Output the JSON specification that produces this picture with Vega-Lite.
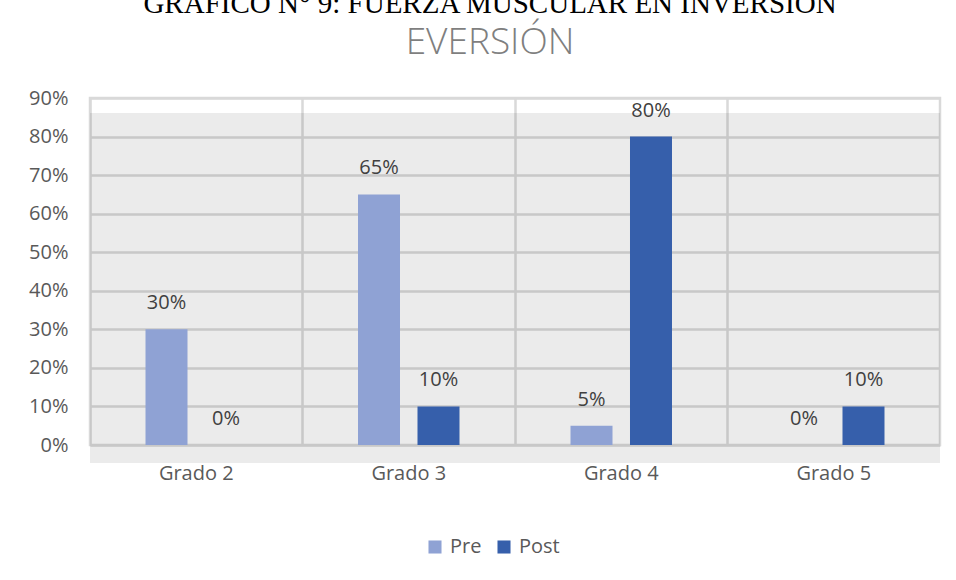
{
  "$schema": "https://vega.github.io/schema/vega-lite/v6.json",
  "width": 850,
  "height": 347,
  "autosize": {"type": "none"},
  "padding": {"left": 90, "top": 98, "right": 16, "bottom": 135},
  "background": "white",
  "title": {
    "text": "GRÁFICO N° 9: FUERZA MUSCULAR EN INVERSIÓN",
    "subtitle": "EVERSIÓN",
    "font": "Liberation Serif",
    "fontSize": 29,
    "fontWeight": "normal",
    "color": "#000000",
    "subtitleFont": "Open Sans",
    "subtitleFontSize": 37,
    "subtitleFontWeight": 300,
    "subtitleColor": "#7F7F7F",
    "subtitlePadding": 6,
    "anchor": "middle",
    "frame": "group",
    "dx": -25,
    "offset": 27
  },
  "datasets": {
    "barras": [
      {"grado": "Grado 2", "momento": "Pre", "valor": 0.30},
      {"grado": "Grado 2", "momento": "Post", "valor": 0.0},
      {"grado": "Grado 3", "momento": "Pre", "valor": 0.65},
      {"grado": "Grado 3", "momento": "Post", "valor": 0.10},
      {"grado": "Grado 4", "momento": "Pre", "valor": 0.05},
      {"grado": "Grado 4", "momento": "Post", "valor": 0.80},
      {"grado": "Grado 5", "momento": "Pre", "valor": 0.0},
      {"grado": "Grado 5", "momento": "Post", "valor": 0.10}
    ],
    "fondo": [{"arriba": 0.861, "abajo": -0.047}]
  },
  "layer": [
    {
      "data": {"name": "fondo"},
      "mark": {"type": "rect", "fill": "#000000", "fillOpacity": 0.08},
      "encoding": {
        "y": {
          "field": "arriba", "type": "quantitative",
          "scale": {"domain": [0, 0.9], "nice": false},
          "axis": {
            "title": null, "values": [0, 0.1, 0.2, 0.3, 0.4, 0.5, 0.6, 0.7, 0.8, 0.9],
            "tickCount": 12,
            "format": ".0%", "domain": false, "ticks": false, "labelOverlap": false,
            "labelFont": "Open Sans", "labelFontSize": 20, "labelColor": "#595959",
            "labelPadding": 22, "gridColor": "#D9D9D9", "gridWidth": 2.5
          }
        },
        "y2": {"field": "abajo"}
      }
    },
    {
      "data": {"name": "barras"},
      "mark": {"type": "bar"},
      "encoding": {
        "x": {
          "field": "grado", "type": "nominal",
          "scale": {"paddingInner": 0, "paddingOuter": 0},
          "axis": {
            "title": null, "domain": false, "ticks": false, "labelAngle": 0,
            "labelFont": "Open Sans", "labelFontSize": 20, "labelColor": "#595959",
            "labelPadding": 18, "grid": true, "bandPosition": 0,
            "gridColor": "#D9D9D9", "gridWidth": 2.5
          }
        },
        "xOffset": {
          "field": "momento", "type": "nominal", "sort": ["Pre", "Post"],
          "scale": {"paddingInner": 0.294, "paddingOuter": 0.933}
        },
        "y": {
          "field": "valor", "type": "quantitative",
          "scale": {"domain": [0, 0.9], "nice": false},
          "axis": {
            "title": null, "values": [0, 0.1, 0.2, 0.3, 0.4, 0.5, 0.6, 0.7, 0.8, 0.9],
            "tickCount": 12,
            "format": ".0%", "domain": false, "ticks": false, "labelOverlap": false,
            "labelFont": "Open Sans", "labelFontSize": 20, "labelColor": "#595959",
            "labelPadding": 22, "gridColor": "#D9D9D9", "gridWidth": 2.5
          }
        },
        "color": {
          "field": "momento", "type": "nominal", "sort": ["Pre", "Post"],
          "scale": {"domain": ["Pre", "Post"], "range": ["#8FA2D4", "#365FAB"]},
          "legend": {
            "title": null, "orient": "none", "legendX": 335, "legendY": 439,
            "direction": "horizontal", "symbolType": "square", "symbolSize": 170,
            "symbolStrokeWidth": 0, "labelFont": "Open Sans", "labelFontSize": 20,
            "labelColor": "#595959", "columnPadding": 12, "labelOffset": 5
          }
        }
      }
    },
    {
      "data": {"name": "barras"},
      "mark": {"type": "text", "dy": -26, "baseline": "middle", "font": "Open Sans", "fontSize": 20, "color": "#404040"},
      "encoding": {
        "x": {"field": "grado", "type": "nominal"},
        "xOffset": {"field": "momento", "type": "nominal", "sort": ["Pre", "Post"]},
        "y": {"field": "valor", "type": "quantitative"},
        "text": {"field": "valor", "type": "quantitative", "format": ".0%"}
      }
    }
  ],
  "config": {
    "view": {"stroke": "#D9D9D9", "strokeWidth": 2.5}
  }
}
